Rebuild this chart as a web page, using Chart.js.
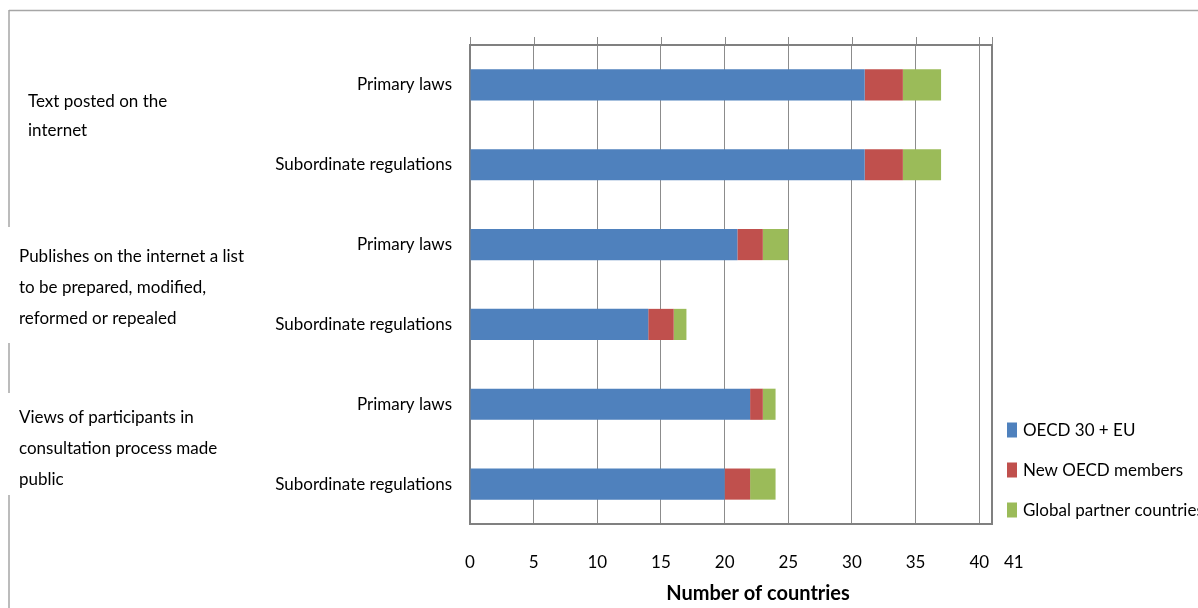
<!DOCTYPE html>
<html>
<head>
<meta charset="utf-8">
<script src="https://cdn.jsdelivr.net/npm/chart.js@4.4.1/dist/chart.umd.min.js"></script>
<style>
  html, body { margin: 0; padding: 0; background: #fff; }
  #wrap { width: 1198px; height: 608px; }
</style>
</head>
<body>
<div id="wrap"><canvas id="c" width="1198" height="608"></canvas></div>
<script>
// Bar categories, top to bottom
const categories = ['Primary laws', 'Subordinate regulations', 'Primary laws', 'Subordinate regulations', 'Primary laws', 'Subordinate regulations'];
// Number of countries per group
const oecd30EU = [31, 31, 21, 14, 22, 20];
const newMembers = [3, 3, 2, 2, 1, 2];
const partners = [3, 3, 2, 1, 1, 2];
const seriesNames = ['OECD 30 + EU', 'New OECD members', 'Global partner countries'];
const seriesColors = ['#4F81BD', '#C0504D', '#9BBB59'];
const tickValues = [0, 5, 10, 15, 20, 25, 30, 35, 40, 41];
const groupLabels = [
  ['Text posted on the', 'internet'],
  ['Publishes on the internet a list', 'to be prepared, modified,', 'reformed or repealed'],
  ['Views of participants in', 'consultation process made', 'public']
];
const axisTitle = 'Number of countries';

const FONT = "Lato, 'Open Sans', sans-serif";
const FS = 17;
const LINE = '#8c8c8c';

// Outer frame, broken where the white text boxes sit over it
const framePlugin = {
  id: 'frame',
  beforeDraw(chart) {
    const ctx = chart.ctx;
    ctx.save();
    ctx.fillStyle = '#fff';
    ctx.fillRect(0, 0, chart.width, chart.height);
    ctx.strokeStyle = '#a6a6a6';
    ctx.lineWidth = 1.5;
    ctx.beginPath();
    ctx.moveTo(9, 10.5); ctx.lineTo(chart.width, 10.5);
    ctx.moveTo(9, 10); ctx.lineTo(9, 227);
    ctx.moveTo(9, 343); ctx.lineTo(9, 393);
    ctx.moveTo(9, 495); ctx.lineTo(9, chart.height);
    ctx.stroke();
    ctx.restore();
  }
};

// Plot border (top/right), small tick stubs above the top edge, side texts and legend
const decorPlugin = {
  id: 'decor',
  afterDraw(chart) {
    const ctx = chart.ctx;
    const a = chart.chartArea;
    const xs = chart.scales.x;
    ctx.save();
    // stubs above the top border
    ctx.strokeStyle = LINE;
    ctx.lineWidth = 1;
    ctx.beginPath();
    tickValues.forEach(v => {
      const px = Math.round(xs.getPixelForValue(v)) + 0.5;
      ctx.moveTo(px, a.top - 8);
      ctx.lineTo(px, a.top);
    });
    ctx.stroke();
    // top and right border
    ctx.strokeStyle = '#808080';
    ctx.lineWidth = 2;
    ctx.beginPath();
    ctx.moveTo(a.left, a.top);
    ctx.lineTo(a.right, a.top);
    ctx.lineTo(a.right, a.bottom);
    ctx.stroke();

    // group descriptions on the left
    ctx.fillStyle = '#000';
    ctx.font = FS + 'px ' + FONT;
    ctx.textAlign = 'left';
    ctx.textBaseline = 'middle';
    const gx = [28, 19, 19];
    const gy = [102, 257, 418];
    const gh = [29, 31, 31];
    groupLabels.forEach((lines, i) => {
      lines.forEach((t, j) => ctx.fillText(t, gx[i], gy[i] + j * gh[i]));
    });

    // axis title
    ctx.font = 'bold 20px ' + FONT;
    ctx.textAlign = 'center';
    ctx.fillText(axisTitle, 758, 594);

    // legend
    ctx.font = FS + 'px ' + FONT;
    ctx.textAlign = 'left';
    chart.data.datasets.forEach((ds, i) => {
      const y = a.bottom - 94 + i * 40;
      ctx.fillStyle = ds.backgroundColor;
      ctx.fillRect(1007, y - 7.5, 10, 15);
      ctx.fillStyle = '#000';
      ctx.fillText(ds.label, 1023, y + 1);
    });
    ctx.restore();
  }
};

new Chart(document.getElementById('c'), {
  type: 'bar',
  data: {
    labels: categories,
    datasets: [
      { label: seriesNames[0], data: oecd30EU, backgroundColor: seriesColors[0] },
      { label: seriesNames[1], data: newMembers, backgroundColor: seriesColors[1] },
      { label: seriesNames[2], data: partners, backgroundColor: seriesColors[2] }
    ]
  },
  options: {
    indexAxis: 'y',
    responsive: false,
    animation: false,
    devicePixelRatio: 1,
    datasets: { bar: { categoryPercentage: 1, barPercentage: 0.39, borderWidth: 0 } },
    layout: { padding: { top: 45, right: 206, left: 0, bottom: 0 } },
    plugins: { legend: { display: false }, tooltip: { enabled: false } },
    scales: {
      x: {
        stacked: true,
        min: 0,
        max: 41,
        afterBuildTicks: s => { s.ticks = tickValues.map(v => ({ value: v })); },
        afterFit: s => { s.height = 84; },
        grid: { color: LINE, lineWidth: 1, drawTicks: false },
        border: { display: true, color: '#808080', width: 2 },
        ticks: {
          autoSkip: false,
          maxRotation: 0,
          padding: 28,
          color: '#000',
          font: { size: FS, family: FONT },
          callback: v => v === 41 ? '          41' : String(v)
        }
      },
      y: {
        stacked: true,
        afterFit: s => { s.width = 470; },
        grid: { display: false, drawTicks: false },
        border: { display: true, color: '#808080', width: 2 },
        ticks: { padding: 18, color: '#000', font: { size: FS, family: FONT } }
      }
    }
  },
  plugins: [framePlugin, decorPlugin]
});
</script>
</body>
</html>
